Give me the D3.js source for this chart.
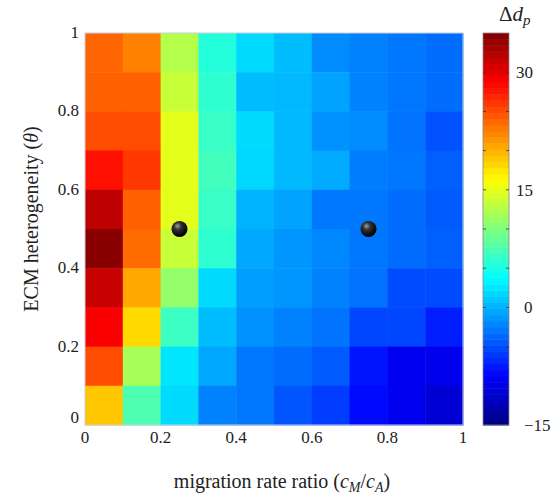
<!DOCTYPE html>
<html>
<head>
<meta charset="utf-8">
<script src="https://cdn.jsdelivr.net/npm/d3@7"></script>
<style>
  body { margin: 0; background: #fff; }
  svg text { fill: #222; }
</style>
</head>
<body>
<svg width="556" height="496" font-family="'Liberation Serif', 'DejaVu Serif', serif"></svg>
<script>
// cell left edges of the grid
var migrationRatio = [0, 0.1, 0.2, 0.3, 0.4, 0.5, 0.6, 0.7, 0.8, 0.9];
// theta bands, listed from the top row down
var thetaRows = [0.9, 0.8, 0.7, 0.6, 0.5, 0.4, 0.3, 0.2, 0.1, 0];
// delta d_p per cell, one row per theta band (top to bottom)
var dpValues = [
  [23.8, 22.4, 12.5, 5.5, 2.0, 0.5, -1.9, -2.4, -2.9, -3.4],
  [24.0, 24.0, 13.5, 6.0, 0.5, 0.3, -0.7, -2.4, -2.9, -3.4],
  [25.0, 25.0, 15.0, 6.5, 2.0, 0.3, -1.6, -1.9, -3.1, -4.8],
  [28.0, 26.0, 15.0, 7.0, 1.8, 0.3, -0.4, -2.6, -2.9, -4.1],
  [32.0, 24.0, 15.0, 6.5, 0.0, -0.7, -2.9, -2.9, -3.4, -4.3],
  [34.5, 23.5, 13.5, 6.0, -0.5, -1.4, -2.1, -2.9, -3.4, -4.1],
  [31.5, 20.5, 11.0, 2.0, -1.0, -1.4, -2.4, -3.1, -5.1, -5.1],
  [29.0, 18.0, 6.7, 0.5, -1.6, -2.4, -3.1, -5.3, -5.3, -7.3],
  [25.0, 12.0, 2.5, -0.5, -2.9, -3.4, -4.3, -7.8, -9.5, -9.7],
  [19.0, 7.5, 2.0, -2.4, -2.9, -4.6, -5.8, -8.3, -9.5, -10.8]
];
// black sphere markers
var markers = [{x: 0.25, y: 0.5}, {x: 0.75, y: 0.5}];
var axisTicks = [0, 0.2, 0.4, 0.6, 0.8, 1];
var cbarLabels = [-15, 0, 15, 30];
var cbarMinor = [-10, -5, 0, 5, 10, 15, 20, 25, 30];
var cbarDomain = [-15, 35];

var svg = d3.select('svg');

var x = d3.scaleLinear().domain([0, 1]).range([85, 463]);
var y = d3.scaleLinear().domain([0, 1]).range([425, 33]);

// matlab style jet
function jet(t) {
  var c = function(v) { return Math.max(0, Math.min(1, v)); };
  var r = c(1.5 - Math.abs(4 * t - 3));
  var g = c(1.5 - Math.abs(4 * t - 2));
  var b = c(1.5 - Math.abs(4 * t - 1));
  return d3.rgb(r * 255, g * 255, b * 255).toString();
}
var color = d3.scaleSequential(jet).domain(cbarDomain);

/**
 * Heatmap cells
 */
var cells = [];
thetaRows.forEach(function(th, i) {
  migrationRatio.forEach(function(m, j) {
    cells.push({x: m, y: th, v: dpValues[i][j]});
  });
});

svg.append('g')
  .selectAll('rect')
  .data(cells)
  .enter()
  .append('rect')
  .attr('x', function(d) { return x(d.x); })
  .attr('y', function(d) { return y(d.y + 0.1); })
  .attr('width', function(d) { return x(d.x + 0.1) - x(d.x) + 0.5; })
  .attr('height', function(d) { return y(d.y) - y(d.y + 0.1) + 0.5; })
  .attr('fill', function(d) { return color(d.v); });

svg.append('rect')
  .attr('x', x(0)).attr('y', y(1))
  .attr('width', x(1) - x(0)).attr('height', y(0) - y(1))
  .attr('fill', 'none')
  .attr('stroke', '#c8d0dc')
  .attr('stroke-width', 1);

/**
 * Markers
 */
var defs = svg.append('defs');
var grad = defs.append('radialGradient')
  .attr('id', 'ball')
  .attr('cx', '38%').attr('cy', '32%').attr('r', '65%');
grad.append('stop').attr('offset', '0%').attr('stop-color', '#a0a0a0');
grad.append('stop').attr('offset', '35%').attr('stop-color', '#333');
grad.append('stop').attr('offset', '100%').attr('stop-color', '#000');

svg.selectAll('circle.marker')
  .data(markers)
  .enter()
  .append('circle')
  .attr('class', 'marker')
  .attr('cx', function(d) { return x(d.x); })
  .attr('cy', function(d) { return y(d.y); })
  .attr('r', 8)
  .attr('fill', 'url(#ball)');

/**
 * Axis tick labels (no tick lines)
 */
svg.append('g')
  .selectAll('text')
  .data(axisTicks)
  .enter()
  .append('text')
  .attr('x', function(d) { return x(d); })
  .attr('y', 443)
  .attr('text-anchor', 'middle')
  .style('font-size', '17px')
  .text(function(d) { return d3.format('~g')(d); });

svg.append('g')
  .selectAll('text')
  .data(axisTicks)
  .enter()
  .append('text')
  .attr('x', 79)
  .attr('y', function(d) { return y(d) + (d === 0 ? -2 : 5); })
  .attr('text-anchor', 'end')
  .style('font-size', '17px')
  .text(function(d) { return d3.format('~g')(d); });

/**
 * Axis titles
 */
var xl = svg.append('text')
  .attr('x', 282)
  .attr('y', 488)
  .attr('text-anchor', 'middle')
  .style('font-size', '20px');
xl.append('tspan').text('migration rate ratio (');
xl.append('tspan').style('font-style', 'italic').text('c');
xl.append('tspan').style('font-style', 'italic').style('font-size', '14px').attr('dy', 4).text('M');
xl.append('tspan').attr('dy', -4).text('/');
xl.append('tspan').style('font-style', 'italic').text('c');
xl.append('tspan').style('font-style', 'italic').style('font-size', '14px').attr('dy', 4).text('A');
xl.append('tspan').attr('dy', -4).text(')');

var yl = svg.append('text')
  .attr('transform', 'translate(38,219) rotate(-90)')
  .attr('text-anchor', 'middle')
  .style('font-size', '20px');
yl.append('tspan').text('ECM heterogeneity (');
yl.append('tspan').style('font-style', 'italic').text('θ');
yl.append('tspan').text(')');

/**
 * Colorbar
 */
var cy = d3.scaleLinear().domain(cbarDomain).range([425, 33]);
var nBands = 64;
var bands = d3.range(nBands).map(function(i) {
  return cbarDomain[0] + (cbarDomain[1] - cbarDomain[0]) * i / nBands;
});
var step = (cbarDomain[1] - cbarDomain[0]) / nBands;

svg.append('g')
  .selectAll('rect')
  .data(bands)
  .enter()
  .append('rect')
  .attr('x', 483)
  .attr('width', 26)
  .attr('y', function(d) { return cy(d + step); })
  .attr('height', function(d) { return cy(d) - cy(d + step) + 0.5; })
  .attr('fill', function(d) { return color(d + step / 2); });

svg.append('rect')
  .attr('x', 483).attr('y', 33)
  .attr('width', 26).attr('height', 392)
  .attr('fill', 'none')
  .attr('stroke', '#888')
  .attr('stroke-width', 0.8);

var tk = svg.append('g');
tk.selectAll('line.l')
  .data(cbarMinor)
  .enter()
  .append('line')
  .attr('x1', 483).attr('x2', 486)
  .attr('y1', function(d) { return cy(d); })
  .attr('y2', function(d) { return cy(d); })
  .attr('stroke', '#333').attr('stroke-width', 0.8);
tk.selectAll('line.r')
  .data(cbarMinor)
  .enter()
  .append('line')
  .attr('x1', 506).attr('x2', 509)
  .attr('y1', function(d) { return cy(d); })
  .attr('y2', function(d) { return cy(d); })
  .attr('stroke', '#333').attr('stroke-width', 0.8);

svg.append('g')
  .selectAll('text')
  .data(cbarLabels)
  .enter()
  .append('text')
  .attr('x', function(d) { return d <= 0 ? 524 : 516; })
  .attr('y', function(d) { return cy(d) + 6; })
  .style('font-size', '17px')
  .text(function(d) { return d < 0 ? '\u2212' + Math.abs(d) : d; });

var ttl = svg.append('text')
  .attr('x', 499)
  .attr('y', 21)
  .style('font-size', '21px');
ttl.append('tspan').text('Δ');
ttl.append('tspan').style('font-style', 'italic').text('d');
ttl.append('tspan').style('font-style', 'italic').style('font-size', '15px').attr('dy', 4).text('p');
</script>
</body>
</html>
